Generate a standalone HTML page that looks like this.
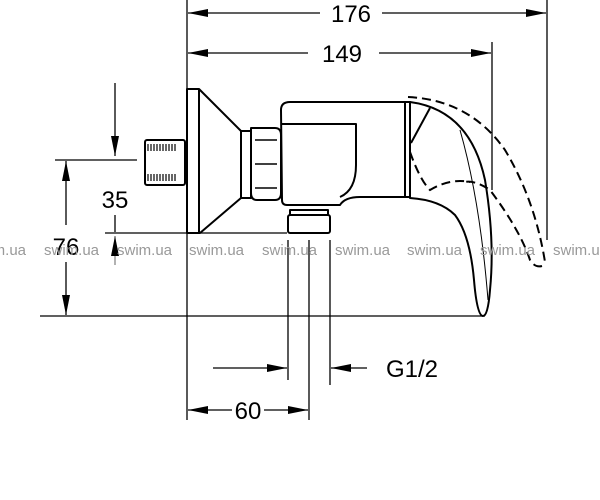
<!DOCTYPE html>
<html><head><style>
html,body{margin:0;padding:0;background:#fff;}
svg{display:block;}
</style></head><body>
<svg width="600" height="500" viewBox="0 0 600 500" xmlns="http://www.w3.org/2000/svg" font-family="Liberation Sans, sans-serif">
<defs>
<marker id="b" viewBox="0 0 20 8" refX="20" refY="4" markerWidth="20" markerHeight="8" markerUnits="userSpaceOnUse" orient="auto-start-reverse"><path d="M0,0L20,4L0,8z" fill="#000"/></marker>
</defs>
<g stroke="#000" stroke-width="1.3" fill="none">
<line x1="187" y1="0" x2="187" y2="420"/>
<line x1="547" y1="0" x2="547" y2="240"/>
<line x1="492" y1="42" x2="492" y2="190"/>
<line x1="40" y1="316" x2="485" y2="316"/>
<line x1="105" y1="233" x2="287" y2="233"/>
<line x1="55" y1="160" x2="137" y2="160"/>
<line x1="288" y1="240" x2="288" y2="380"/>
<line x1="309" y1="240" x2="309" y2="420"/>
<line x1="330" y1="240" x2="330" y2="385"/>
<line x1="188" y1="13" x2="320" y2="13" marker-start="url(#b)"/>
<line x1="382" y1="13" x2="546" y2="13" marker-end="url(#b)"/>
<line x1="188" y1="53" x2="308" y2="53" marker-start="url(#b)"/>
<line x1="379" y1="53" x2="491" y2="53" marker-end="url(#b)"/>
<line x1="115" y1="83" x2="115" y2="156" marker-end="url(#b)"/>
<line x1="115" y1="215" x2="115" y2="232"/>
<line x1="115" y1="265" x2="115" y2="236" marker-end="url(#b)" stroke="#888"/>
<line x1="66" y1="161" x2="66" y2="225" marker-start="url(#b)"/>
<line x1="66" y1="262" x2="66" y2="315" marker-end="url(#b)"/>
<line x1="213" y1="368" x2="287" y2="368" marker-end="url(#b)"/>
<line x1="367" y1="368" x2="331" y2="368" marker-end="url(#b)"/>
<line x1="188" y1="410" x2="232" y2="410" marker-start="url(#b)"/>
<line x1="264" y1="410" x2="308" y2="410" marker-end="url(#b)"/>
</g>
<g stroke="#000" stroke-width="2" fill="#fff" stroke-linejoin="round">
<rect x="145" y="140" width="40" height="45" rx="2"/>
<path d="M187,89 L199,89 L241,131 L241,198 L200,233 L187,233 Z"/>
<line x1="199" y1="89" x2="199" y2="233"/>
<rect x="241" y="131" width="10" height="67"/>
<path d="M251,128 L275,128 Q281,128 281,135 L281,193 Q281,200 275,200 L257,200 Q251,200 251,193 Z"/>
<path d="M255,140 L277,140 M255,164 L277,164 M255,188 L277,188" stroke-width="1.5"/>
<path d="M281,110 Q281,102 290,102 L407,102 L407,197 L360,197 Q345,197 340,205 L287,205 Q282,205 282,200 Z"/>
<path d="M282,124 L356,124 L356,165 Q356,190 340,197" fill="none"/>
<rect x="290" y="210" width="38" height="5"/>
<rect x="288" y="215" width="42" height="18" rx="2"/>
<rect x="405" y="102" width="5" height="95"/>
<path d="M410,102 Q470,110 485,180 Q495,240 490,290 Q488,316 483,316 Q477,316 474,280 Q470,235 455,215 Q440,200 410,198 Z"/>
<path d="M430,108 L411,143" fill="none"/>
<path d="M460,130 Q480,200 488,300" fill="none" stroke-width="1"/>
</g>
<g stroke="#000" stroke-width="1.2">
<path d="M148,144v7M151,144v7M154,144v7M157,144v7M160,144v7M163,144v7M166,144v7M169,144v7M172,144v7M175,144v7"/>
<path d="M148,174v7M151,174v7M154,174v7M157,174v7M160,174v7M163,174v7M166,174v7M169,174v7M172,174v7M175,174v7"/>
</g>
<g stroke="#000" stroke-width="2" fill="none" stroke-dasharray="9,5">
<path d="M408,97 Q470,100 505,150 Q535,200 545,262"/>
<path d="M542,266 Q535,268 530,260 Q520,230 490,190 Q475,180 465,182"/>
<path d="M410,152 Q420,180 430,190 Q450,178 470,182"/>
</g>
<g font-size="24" fill="#000" text-anchor="middle">
<text x="351" y="22">176</text>
<text x="342" y="62">149</text>
<text x="115" y="208">35</text>
<text x="66" y="255">76</text>
<text x="412" y="377">G1/2</text>
<text x="248" y="419">60</text>
</g>
<g font-size="15" fill="#999">
<text x="-29" y="255">swim.ua</text>
<text x="44" y="255">swim.ua</text>
<text x="117" y="255">swim.ua</text>
<text x="189" y="255">swim.ua</text>
<text x="262" y="255">swim.ua</text>
<text x="335" y="255">swim.ua</text>
<text x="407" y="255">swim.ua</text>
<text x="480" y="255">swim.ua</text>
<text x="553" y="255">swim.ua</text>
</g>
</svg>
</body></html>
